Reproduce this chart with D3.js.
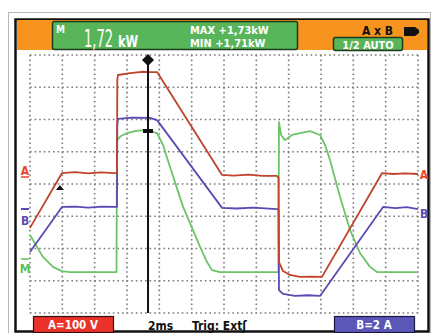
<!DOCTYPE html>
<html>
<head>
<meta charset="utf-8">
<script src="https://cdn.jsdelivr.net/npm/d3@7"></script>
<style>
  body { margin: 0; background: #fff; }
  svg { display: block; }
  text { font-family: "DejaVu Sans Condensed", "Liberation Sans Narrow", sans-serif; font-weight: bold; }
</style>
</head>
<body>
<div id="scope"></div>
<script>
// time axis: 2 ms/div, 12 divisions
const timeTicks = d3.range(0, 25, 2);
const divTicks = d3.range(0, 9, 1);

// traces, [time ms, level in divisions from bottom]
const traceA = [
  [0, 2.64], [1.98, 4.34], [2.8, 4.37], [3.6, 4.33], [4.4, 4.36], [5.26, 4.34],
  [5.38, 4.34], [5.40, 7.22], [5.44, 7.38], [6.19, 7.44], [6.9, 7.48], [7.42, 7.47], [7.86, 7.47],
  [11.88, 4.28], [12.6, 4.26], [13.5, 4.29], [14.4, 4.25], [15.28, 4.25], [15.37, 4.19],
  [15.40, 1.58], [15.65, 1.30], [16.08, 1.18], [16.70, 1.12], [17.4, 1.13], [18.06, 1.12],
  [21.78, 4.34], [22.5, 4.31], [23.2, 4.33], [24, 4.31]
];
const traceB = [
  [0, 1.89], [1.98, 3.29], [2.8, 3.30], [3.6, 3.27], [4.4, 3.30], [5.26, 3.29],
  [5.38, 3.29], [5.40, 5.83], [5.44, 6.02], [6.3, 6.06], [7.42, 6.05], [7.86, 5.98],
  [11.88, 3.26], [12.8, 3.24], [13.8, 3.27], [15.28, 3.22], [15.37, 3.20],
  [15.40, 0.71], [15.65, 0.59], [16.39, 0.53], [17.2, 0.55], [17.94, 0.53],
  [21.84, 3.29], [22.6, 3.25], [23.3, 3.28], [24, 3.22]
];
const traceM = [
  [0, 2.42], [0.43, 2.05], [0.80, 1.74], [1.42, 1.43], [1.98, 1.30], [2.47, 1.27], [5.26, 1.27],
  [5.35, 1.27], [5.38, 5.36], [5.63, 5.49], [6.00, 5.58], [6.50, 5.64], [6.99, 5.67], [7.42, 5.64], [7.86, 5.58],
  [8.23, 5.21], [8.66, 4.53], [9.47, 3.29], [10.52, 2.05], [10.95, 1.58], [11.26, 1.33], [11.75, 1.27],
  [15.28, 1.27], [15.37, 1.27], [15.40, 5.92], [15.53, 5.52], [15.77, 5.36], [16.21, 5.52], [16.70, 5.58],
  [17.32, 5.64], [17.94, 5.52], [18.25, 5.21], [18.56, 4.74], [19.18, 3.60], [19.80, 2.57], [20.41, 1.86],
  [21.03, 1.43], [21.47, 1.27], [24, 1.27]
];

const readings = { main: "1,72", unit: "kW", max: "MAX +1,73kW", min: "MIN +1,71kW" };
const cursorTime = 7.3;

const W = 433, H = 333;
const svg = d3.select("#scope").append("svg").attr("width", W).attr("height", H);

const x = d3.scaleLinear().domain([0, 24]).range([30, 418]);
const y = d3.scaleLinear().domain([0, 8]).range([313, 55]);

// outer frame
svg.append("rect").attr("x", 8.5).attr("y", 12.5).attr("width", 422).attr("height", 330)
  .attr("fill", "#fff").attr("stroke", "#b8b8b8");
svg.append("rect").attr("x", 15.5).attr("y", 19.5).attr("width", 413).attr("height", 312)
  .attr("fill", "#fff").attr("stroke", "#111").attr("stroke-width", 2.5);

// header bar
svg.append("rect").attr("x", 17).attr("y", 20).attr("width", 410).attr("height", 30).attr("fill", "#f7941e");
svg.append("rect").attr("x", 52.5).attr("y", 21.5).attr("width", 245).attr("height", 28)
  .attr("fill", "#59b55a").attr("stroke", "#1d3b1d").attr("stroke-width", 1.5).attr("rx", 2);
svg.append("text").attr("x", 56).attr("y", 33).attr("fill", "#fff").attr("font-size", 10).text("M");

// squeezed readout text (scope display font is tall and narrow)
function squeezed(str, tx, ty, size, sx, bold) {
  return svg.append("text").attr("transform", `translate(${tx},${ty}) scale(${sx},1)`)
    .attr("fill", "#fff").attr("font-size", size)
    .attr("style", bold ? null : "font-weight:normal").text(str);
}
squeezed(readings.main, 84, 47, 25, 0.58, false);
squeezed(readings.unit, 118, 47, 15, 0.85, true);
squeezed(readings.max, 190, 34, 11, 1.0, true);
squeezed(readings.min, 190, 47, 11, 1.0, true);

svg.append("text").attr("x", 362).attr("y", 35).attr("fill", "#111").attr("font-size", 12).text("A x B");
svg.append("path").attr("d", "M404,27 h11 l4,3 v3 l-4,3 h-11 z").attr("fill", "#111");
svg.append("rect").attr("x", 333.5).attr("y", 37.5).attr("width", 69).attr("height", 13).attr("rx", 2)
  .attr("fill", "#59b55a").attr("stroke", "#1d3b1d").attr("stroke-width", 1.5);
svg.append("text").attr("x", 368).attr("y", 48.5).attr("text-anchor", "middle").attr("fill", "#fff")
  .attr("font-size", 11).text("1/2 AUTO");

// dotted graticule
const grid = svg.append("g").attr("stroke", "#7a7a7a").attr("stroke-width", 1.6)
  .attr("stroke-dasharray", "1.6 3").attr("fill", "none");
grid.selectAll(".v").data(timeTicks).join("line")
  .attr("x1", d => x(d)).attr("x2", d => x(d)).attr("y1", y(8)).attr("y2", y(0));
grid.selectAll(".h").data(divTicks).join("line")
  .attr("y1", d => y(d)).attr("y2", d => y(d)).attr("x1", x(0)).attr("x2", x(24));

// traces
const line = d3.line().x(d => x(d[0])).y(d => y(d[1]));
const traces = [
  { data: traceM, color: "#6cc469" },
  { data: traceB, color: "#5a4bb3" },
  { data: traceA, color: "#c0432c" }
];
svg.append("g").selectAll("path").data(traces).join("path")
  .attr("d", d => line(d.data)).attr("fill", "none")
  .attr("stroke", d => d.color).attr("stroke-width", 1.8).attr("stroke-linejoin", "round");

// cursor
const cx = x(cursorTime);
svg.append("line").attr("x1", cx).attr("x2", cx).attr("y1", 56).attr("y2", y(0))
  .attr("stroke", "#111").attr("stroke-width", 2);
svg.append("path").attr("d", `M${cx},54 l6,6 l-6,6 l-6,-6 z`).attr("fill", "#111");
svg.append("rect").attr("x", cx - 5).attr("y", 129).attr("width", 10).attr("height", 4).attr("fill", "#111");

// trigger marker
svg.append("path").attr("d", `M${x(1.85) - 4},190 l4,-5 l4,5 z`).attr("fill", "#111");

// channel labels
svg.append("text").attr("x", 25).attr("y", 175).attr("text-anchor", "middle").attr("fill", "#e8462e")
  .attr("font-size", 12).text("A");
svg.append("line").attr("x1", 21).attr("x2", 29).attr("y1", 177).attr("y2", 177).attr("stroke", "#e8462e").attr("stroke-width", 1.5);
svg.append("line").attr("x1", 21).attr("x2", 29).attr("y1", 209).attr("y2", 209).attr("stroke", "#5a4bb3").attr("stroke-width", 2);
svg.append("text").attr("x", 25).attr("y", 225).attr("text-anchor", "middle").attr("fill", "#5a4bb3")
  .attr("font-size", 12).text("B");
svg.append("text").attr("x", 25).attr("y", 273).attr("text-anchor", "middle").attr("fill", "#5fbd5c")
  .attr("font-size", 12).text("M");
svg.append("line").attr("x1", 21).attr("x2", 29).attr("y1", 259).attr("y2", 259).attr("stroke", "#5fbd5c").attr("stroke-width", 1.5);
svg.append("text").attr("x", 424).attr("y", 179).attr("text-anchor", "middle").attr("fill", "#e8462e")
  .attr("font-size", 12).text("A");
svg.append("text").attr("x", 424).attr("y", 218).attr("text-anchor", "middle").attr("fill", "#5a4bb3")
  .attr("font-size", 12).text("B");

// bottom status
svg.append("rect").attr("x", 33.5).attr("y", 316.5).attr("width", 80).attr("height", 16)
  .attr("fill", "#e8322a").attr("stroke", "#3a0d0a").attr("stroke-width", 1.2);
svg.append("text").attr("x", 73).attr("y", 329).attr("text-anchor", "middle").attr("fill", "#fff")
  .attr("font-size", 11.5).text("A=100 V");
svg.append("text").attr("x", 148).attr("y", 330).attr("fill", "#111").attr("font-size", 12).text("2ms");
svg.append("text").attr("x", 192).attr("y", 330).attr("fill", "#111").attr("font-size", 12).text("Trig: Ext\u0283");
svg.append("rect").attr("x", 334.5).attr("y", 316.5).attr("width", 80).attr("height", 16)
  .attr("fill", "#5a57b8").attr("stroke", "#1a1840").attr("stroke-width", 1.2);
svg.append("text").attr("x", 374).attr("y", 329).attr("text-anchor", "middle").attr("fill", "#fff")
  .attr("font-size", 11.5).text("B=2 A");
</script>
</body>
</html>
